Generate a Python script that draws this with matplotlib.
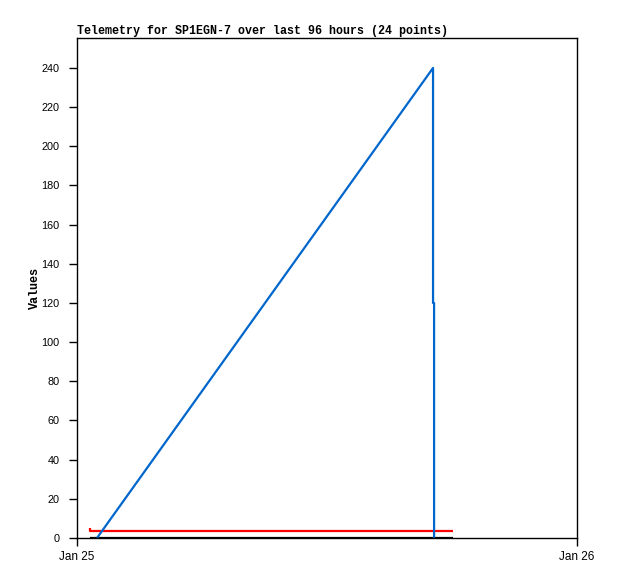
import matplotlib
matplotlib.use("Agg")
import matplotlib.pyplot as plt

title = "Telemetry for SP1EGN-7 over last 96 hours (24 points)"
x_tick_labels = ["Jan 25", "Jan 26"]
x_tick_hours = [0, 24]
y_ticks = list(range(0, 241, 20))

# hours after Jan 25 00:00
blue_hours = [0.96, 17.09, 17.09, 17.14, 17.14]
blue_values = [0, 240, 120, 120, 0]
red_hours = [0.62, 0.62, 18.05]
red_values = [5, 3.8, 3.8]
black_hours = [0.62, 18.05]
black_values = [0, 0]

W, H = 618, 579
fig = plt.figure(figsize=(W / 100, H / 100), dpi=100)
ax = fig.add_axes([77 / W, 1 - 538 / H, 500 / W, 500 / H])

ax.plot(black_hours, black_values, color="black", lw=1.6, solid_capstyle="butt")
ax.plot(red_hours, red_values, color="#ff0000", lw=1.6, solid_capstyle="butt")
ax.plot(blue_hours, blue_values, color="#0066cc", lw=1.6, solid_capstyle="butt")

ax.set_xlim(0, 24)
ax.set_ylim(0, 255.3)
ax.set_xticks(x_tick_hours)
ax.set_xticklabels(x_tick_labels, fontfamily="Liberation Sans", fontsize=8.5)
ax.set_yticks(y_ticks)
ax.set_yticklabels([str(v) for v in y_ticks], fontfamily="Liberation Sans", fontsize=7.8)
ax.tick_params(direction="out", length=6, width=1, colors="black")
ax.tick_params(axis="y", pad=6.5)
ax.tick_params(axis="x", pad=3)
for s in ax.spines.values():
    s.set_linewidth(1)
    s.set_color("black")

ax.set_ylabel("Values", fontfamily="Liberation Mono", fontweight="bold", fontsize=8.5)
ax.yaxis.set_label_coords(-0.072, 0.5)
ax.set_title(title, loc="left", fontfamily="Liberation Mono", fontweight="bold", fontsize=8.4, pad=3)

fig.savefig("out.png", dpi=100)
